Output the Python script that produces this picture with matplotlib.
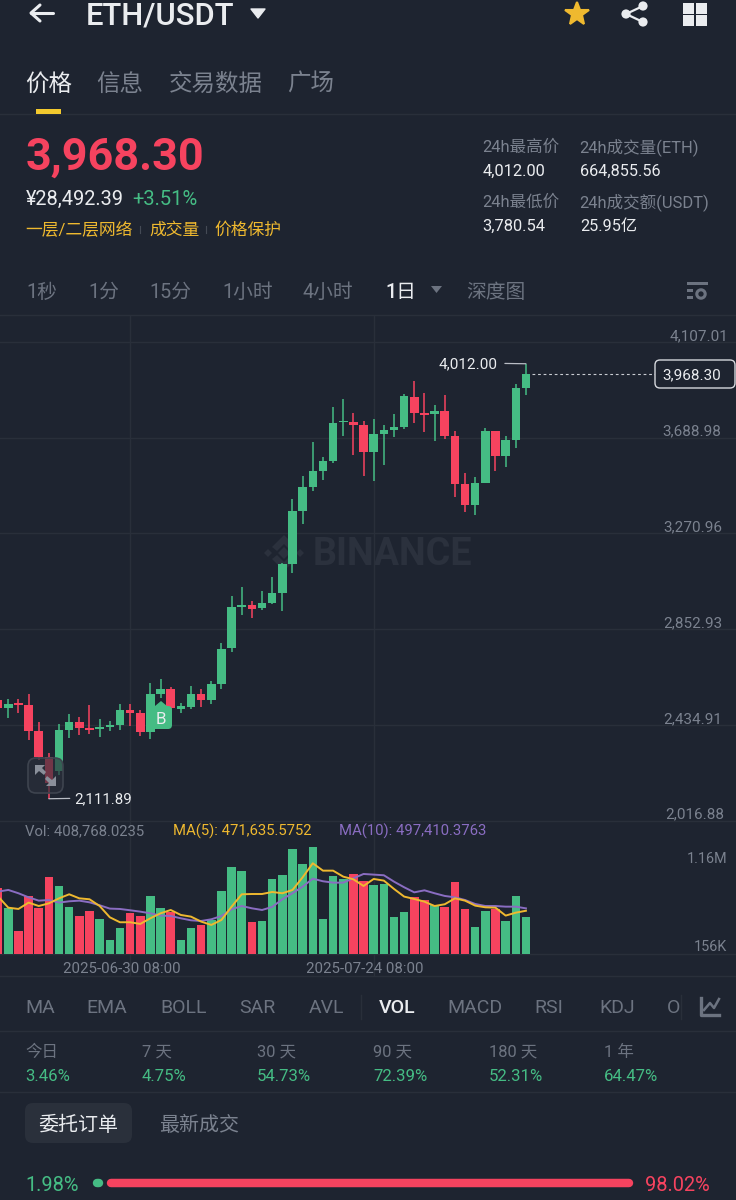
import matplotlib
matplotlib.use("Agg")
import matplotlib.pyplot as plt
from matplotlib.patches import FancyBboxPatch, Polygon, Circle, Rectangle

plt.rcParams['font.family'] = ['Roboto', 'Noto Sans CJK SC', 'DejaVu Sans']

# ---------- data ----------
day_index = list(range(-1, 52))
opens = [2544,2510,2529,2521,2407,2296,2233,2412,2448,2420,2418,2425,2433,2500,2485,2405,2568,2590,2505,2514,2568,2542,2614,2769,
         2951,2958,2944,2968,3012,3137,3369,3474,3545,3589,3756,3759,3744,3626,3704,3723,3735,3868,3797,3792,3807,3696,3487,3394,
         3492,3718,3610,3680,3906]
highs = [2556,2546,2546,2568,2447,2313,2438,2482,2468,2521,2462,2450,2524,2524,2500,2619,2635,2601,2529,2604,2590,2628,2794,2999,
         3038,2977,3018,3082,3140,3421,3522,3672,3606,3822,3857,3796,3762,3769,3744,3791,3879,3938,3883,3831,3875,3720,3536,3519,
         3733,3720,3696,3924,4012.00]
lows = [2504,2466,2485,2368,2281,2111.89,2216,2376,2389,2393,2383,2408,2412,2431,2387,2373,2552,2500,2488,2504,2511,2524,2590,2754,
        2915,2903,2936,2963,2932,3099,3310,3457,3504,3577,3696,3615,3523,3500,3571,3693,3728,3752,3715,3676,3682,3431,3366,3353,
        3490,3543,3560,3645,3877]
closes = [2510,2526,2521,2408,2296,2181,2412,2448,2420,2411,2424,2433,2500,2485,2405,2569,2590,2507,2517,2568,2542,2613,2766,2951,
          2957,2942,2968,3012,3137,3369,3474,3545,3589,3753,3762,3743,3626,3704,3723,3737,3871,3797,3788,3807,3696,3487,3394,3492,
          3718,3610,3680,3906,3968.30]
volumes = [715,498,256,632,498,841,744,516,415,466,383,155,289,444,415,635,502,462,155,282,318,372,686,949,906,347,357,812,859,
           1137,975,1160,383,852,812,870,798,754,762,408,458,617,588,534,516,783,495,296,466,495,365,632,408.768]
ma5 = [625,505,491,560,523,552,606,650,606,596,523,401,347,347,329,390,444,480,426,408,354,318,372,516,650,653,653,675,661,697,
       834,986,906,906,841,812,740,816,798,708,625,599,570,523,542,606,581,527,509,505,419,451,471.636]
ma10 = [679,697,661,617,581,588,560,574,581,563,531,495,491,477,462,444,419,415,390,368,361,379,415,487,523,498,480,513,596,661,
        733,819,791,776,776,823,870,863,856,787,726,671,693,661,632,617,588,545,523,523,516,516,497.410]
price_ticks = [4107.01, 3688.98, 3270.96, 2852.93, 2434.91, 2016.88]
price_labels = ['4,107.01', '3,688.98', '3,270.96', '2,852.93', '2,434.91', '2,016.88']
vol_ticks = [1160, 156]
vol_labels = ['1.16M', '156K']
date_ticks = [12, 36]
date_labels = ['2025-06-30 08:00', '2025-07-24 08:00']
last_price = 3968.30
high_price = 4012.00
low_price = 2111.89
high_index = 51
low_index = 4
tabs = ['价格', '信息', '交易数据', '广场']
intervals = ['1秒', '1分', '15分', '1小时', '4小时', '1日', '深度图']
indicators = ['MA', 'EMA', 'BOLL', 'SAR', 'AVL', 'VOL', 'MACD', 'RSI', 'KDJ', 'O']
period_names = ['今日', '7 天', '30 天', '90 天', '180 天', '1 年']
period_values = ['3.46%', '4.75%', '54.73%', '72.39%', '52.31%', '64.47%']
bid_pct = 1.98
ask_pct = 98.02

# ---------- style ----------
W, H = 736, 1200
BG = '#1E2430'
GRID = '#292F3A'
GREEN = '#45BC84'
RED = '#F6435F'
WHITE = '#EAECEF'
GREY = '#7B828F'
DIM = '#6C7380'
YEL = '#EFB92F'
PUR = '#8A6DC2'

fig = plt.figure(figsize=(W / 100, H / 100), dpi=100, facecolor=BG)

def px_axes(x0, y0, x1, y1, z):
    ax = fig.add_axes([x0 / W, 1 - y1 / H, (x1 - x0) / W, (y1 - y0) / H], zorder=z)
    ax.patch.set_alpha(0)
    for s in ax.spines.values():
        s.set_visible(False)
    return ax

bg = px_axes(0, 0, W, H, 0)
bg.set_xlim(0, W); bg.set_ylim(H, 0); bg.axis('off')
ui = px_axes(0, 0, W, H, 5)
ui.set_xlim(0, W); ui.set_ylim(H, 0); ui.axis('off')

def T(x, y, s, size, color=WHITE, weight='normal', ha='left', ax=ui, **kw):
    return ax.text(x, y + 1.3, s, fontsize=size * 0.72, color=color, fontweight=weight, ha=ha, va='center', **kw)

# ---------- separators ----------
for yy in (114, 315, 820.5, 976, 1031, 1092):
    bg.plot([0, W], [yy, yy], color=GRID, lw=1.0)

# ---------- watermark ----------
WM = '#2B313D'
def diamond(cx, cy, r):
    bg.add_patch(Polygon([(cx - r, cy), (cx, cy - r), (cx + r, cy), (cx, cy + r)], fc=WM, ec='none'))
diamond(284, 553, 6)
diamond(268, 553, 4)
diamond(300, 553, 4)
bg.add_patch(Polygon([(284, 535), (296, 547), (291, 551), (284, 544), (277, 551), (272, 547)], fc=WM, ec='none'))
bg.add_patch(Polygon([(284, 571), (296, 559), (291, 555), (284, 562), (277, 555), (272, 559)], fc=WM, ec='none'))
T(313, 553, 'BINANCE', 37.8, WM, 'bold', ax=bg)

# ---------- price pane ----------
x_left = -8.3 / 10.15
x_right = (W - 8.3) / 10.15
ax = px_axes(0, 315, W, 820.5, 1)
ax.set_xlim(x_left, x_right)
ax.set_ylim(2016.88, 4107.01 + 27 * (418.03 / 95.7))
ax.set_xticks(date_ticks)
ax.set_yticks(price_ticks[:-1])
ax.tick_params(length=0, labelleft=False, labelbottom=False)
ax.grid(True, color=GRID, lw=1.0)
ax.set_axisbelow(True)

colors = [RED if c < o else GREEN for o, c in zip(opens, closes)]
ax.vlines(day_index, lows, highs, colors=colors, lw=1.1, zorder=2)
ax.bar(day_index, [max(abs(c - o), 5) for o, c in zip(opens, closes)], bottom=[min(o, c) for o, c in zip(opens, closes)],
       width=0.84, color=colors, zorder=3)

for p, lab, dx in zip(price_ticks, price_labels, (-8, -15, -14, -14, -14, -12)):
    ax.annotate(lab, xy=(1, p), xycoords=ax.get_yaxis_transform(), xytext=(dx, 6), textcoords='offset pixels',
                ha='right', va='center', color=GREY, fontsize=15.3 * 0.72, annotation_clip=False, zorder=6)

# last price dashed line
ax.plot([high_index + 0.6, x_right - 8], [last_price, last_price], color='#C9CCD2', lw=0.8, dashes=(2.5, 2.5), zorder=4)
# high / low leaders
ax.annotate(f'{high_price:,.2f}', xy=(high_index, high_price), xytext=(-28, -1), textcoords='offset pixels',
            ha='right', va='center', color=WHITE, fontsize=15.3 * 0.72, zorder=6,
            arrowprops=dict(arrowstyle='-', color='#B9BDC5', lw=0.9, shrinkA=3, shrinkB=0, relpos=(1, 0.6)))
ax.annotate(f'{low_price:,.2f}', xy=(low_index, low_price), xytext=(25, -1), textcoords='offset pixels',
            ha='left', va='center', color=WHITE, fontsize=15 * 0.72, zorder=6,
            arrowprops=dict(arrowstyle='-', color='#B9BDC5', lw=0.9, shrinkA=1, shrinkB=0, relpos=(0, 0.6)))

# ---------- volume pane ----------
vx = px_axes(0, 820.5, W, 976, 1)
vol_per_px = 10.83
vx.set_xlim(x_left, x_right)
vx.set_ylim(-(976 - 954.3) * vol_per_px, (954.3 - 820.5) * vol_per_px)
vx.set_xticks(date_ticks)
vx.set_yticks([0])
vx.tick_params(length=0, labelleft=False, labelbottom=False)
vx.grid(True, color=GRID, lw=1.0)
vx.set_axisbelow(True)
vx.bar(day_index, volumes, width=0.84, color=colors, zorder=2)
vx.plot(day_index, ma10, color=PUR, lw=1.4, zorder=3)
vx.plot(day_index, ma5, color=YEL, lw=1.4, zorder=4)
for v, lab, off in zip(vol_ticks, vol_labels, (-12, -7)):
    vx.annotate(lab, xy=(1, v), xycoords=vx.get_yaxis_transform(), xytext=(-9, off), textcoords='offset pixels',
                ha='right', va='center', color=GREY, fontsize=14.4 * 0.72, annotation_clip=False, zorder=6)
for d, lab in zip(date_ticks, date_labels):
    vx.annotate(lab, xy=(d, 0), xytext=(-8.5, -15), textcoords='offset pixels', ha='center', va='center',
                color=GREY, fontsize=15 * 0.72, zorder=6)

T(25, 830, 'Vol: 408,768.0235', 14.9, GREY)
T(173, 830, 'MA(5): 471,635.5752', 14.9, YEL)
T(339, 830, 'MA(10): 497,410.3763', 14.9, PUR)

# ---------- last price box ----------
ui.add_patch(FancyBboxPatch((655, 360), 80, 28, boxstyle='round,pad=0,rounding_size=5', fc=BG, ec='#D5D8DD', lw=1.0))
T(692, 374, f'{last_price:,.2f}', 15.3, WHITE, ha='center')

# ---------- markers on chart ----------
ui.add_patch(FancyBboxPatch((28, 758), 35, 35, boxstyle='round,pad=0,rounding_size=8', fc=(0.17, 0.19, 0.23, 0.65), ec='#3E444F', lw=1.2))
ui.add_patch(Polygon([(35, 765), (45, 765), (42, 768), (46, 772), (44, 775), (39, 771), (35, 775)], fc='#8A8F9A', ec='none'))
ui.add_patch(Polygon([(56, 786), (46, 786), (49, 783), (45, 779), (47, 776), (52, 780), (56, 776)], fc='#8A8F9A', ec='none'))
ui.add_patch(FancyBboxPatch((148, 706), 24, 23, boxstyle='round,pad=0,rounding_size=4', fc=GREEN, ec='none'))
ui.add_patch(Polygon([(155, 706), (161, 701), (167, 706)], fc=GREEN, ec='none'))
T(161, 718, 'B', 17, WHITE, ha='center')

# ---------- header ----------
ui.plot([31, 53], [13, 13], color=WHITE, lw=2.2, solid_capstyle='round')
ui.plot([40, 31, 40], [5, 13, 21], color=WHITE, lw=2.2, solid_capstyle='round', solid_joinstyle='round')
T(86, 15, 'ETH/USDT', 31, WHITE, 'medium')
ui.add_patch(Polygon([(251, 9), (265, 9), (258, 18)], fc=WHITE, ec=WHITE, lw=1, joinstyle='round'))
ui.plot([577], [14], marker='*', ms=18, color=YEL, mec=YEL, mew=1.5)
for cx, cy in ((643, 6), (643, 22), (626, 14)):
    ui.add_patch(Circle((cx, cy), 4.6, fc=WHITE, ec='none'))
ui.plot([643, 626, 643], [6, 14, 22], color=WHITE, lw=1.6)
for x0 in (683, 696):
    for y0 in (3, 15):
        ui.add_patch(Rectangle((x0, y0), 10.5, 10.5, fc=WHITE, ec='none'))

for x0, s, col, w in zip((25, 96.5, 168.5, 287.5), tabs, (WHITE, GREY, GREY, GREY), ('medium', 'normal', 'normal', 'normal')):
    T(x0, 83, s, 23.5, col, w)
ui.add_patch(Rectangle((36, 109), 25, 5, fc='#F3C92E', ec='none'))

T(26, 156, f'{last_price:,.2f}', 45, RED, 'bold')
T(26, 198, '¥28,492.39', 20, WHITE)
T(132, 198, '+3.51%', 20.2, GREEN)
T(25, 229, '一层/二层网络', 16.8, YEL)
T(149, 229, '成交量', 16.8, YEL)
T(214, 229, '价格保护', 16.8, YEL)
ui.plot([140, 140], [226, 233], color='#444A55', lw=0.8)
ui.plot([206, 206], [226, 233], color='#444A55', lw=0.8)

for (x0, x1, a, b) in ((482.5, 579.5, '24h最高价', '24h成交量(ETH)'), (482.5, 579.5, '24h最低价', '24h成交额(USDT)')):
    yy = 146 if '高' in a else 201
    T(x0, yy, a, 16.5, GREY)
    T(x1, yy, b, 16.5, GREY)
T(482.5, 170, '4,012.00', 16.5, WHITE)
T(580, 170, '664,855.56', 16.2, WHITE)
T(482.5, 225, '3,780.54', 16.5, WHITE)
T(580, 225, '25.95亿', 16.2, WHITE)

# ---------- interval row ----------
for x0, s in zip((26.5, 88.5, 149.5, 222.5, 302.5, 385.5, 466.5), intervals):
    T(x0, 291, s, 19.8, WHITE if s == '1日' else DIM, 'medium' if s == '1日' else 'normal')
ui.add_patch(Polygon([(431, 286), (442, 286), (436.5, 293)], fc=DIM, ec='none'))
ui.add_patch(Rectangle((687, 282), 21, 2.5, fc=DIM, ec='none'))
ui.add_patch(Rectangle((687, 289), 6, 2.5, fc=DIM, ec='none'))
ui.add_patch(Rectangle((687, 296), 6, 2.5, fc=DIM, ec='none'))
ui.add_patch(Circle((701, 294), 4.2, fc='none', ec=DIM, lw=2.2))

# ---------- indicator row ----------
for x0, s in zip((25, 86, 160, 239, 309, 379, 447.5, 534, 599, 667), indicators):
    T(x0, 1007, s, 19.5, WHITE if s == 'VOL' else DIM, 'medium' if s == 'VOL' else 'normal')
ui.plot([361, 361], [995, 1019], color=GRID, lw=1)
ui.plot([681, 681], [995, 1019], color=GRID, lw=1)
ui.plot([701, 701, 719], [998, 1015, 1015], color=DIM, lw=2.4)
ui.plot([704, 710, 714, 719], [1010, 1003, 1008, 999], color=DIM, lw=1.8)

# ---------- period row ----------
for x0, n, v in zip((25, 142, 257, 373, 489, 604), period_names, period_values):
    T(x0, 1051, n, 16.5, DIM)
    T(x0, 1075, v, 16.8, GREEN)

# ---------- order tabs ----------
ui.add_patch(FancyBboxPatch((25, 1103), 107, 40, boxstyle='round,pad=0,rounding_size=8', fc='#2A303B', ec='none'))
T(78.5, 1124, '委托订单', 20, WHITE, ha='center')
T(159.5, 1124, '最新成交', 20, GREY)

# ---------- bid / ask bar (bars drawn from the percentages) ----------
T(25, 1184, f'{bid_pct:.2f}%', 20, GREEN)
T(710, 1184, f'{ask_pct:.2f}%', 20, RED, ha='right')
bar = px_axes(93, 1179, 633, 1187.5, 4)
bar.axis('off')
bar.set_xlim(0, 100); bar.set_ylim(0, 1)
cap = 0.79
bar.plot([cap, bid_pct - cap], [0.5, 0.5], color=GREEN, lw=6.1, solid_capstyle='round', clip_on=False)
bar.plot([bid_pct + 0.55 + cap, bid_pct + 0.55 + ask_pct - 0.55 - cap], [0.5, 0.5], color=RED, lw=6.1, solid_capstyle='round', clip_on=False)

fig.savefig('out.png', dpi=100, facecolor=BG)
